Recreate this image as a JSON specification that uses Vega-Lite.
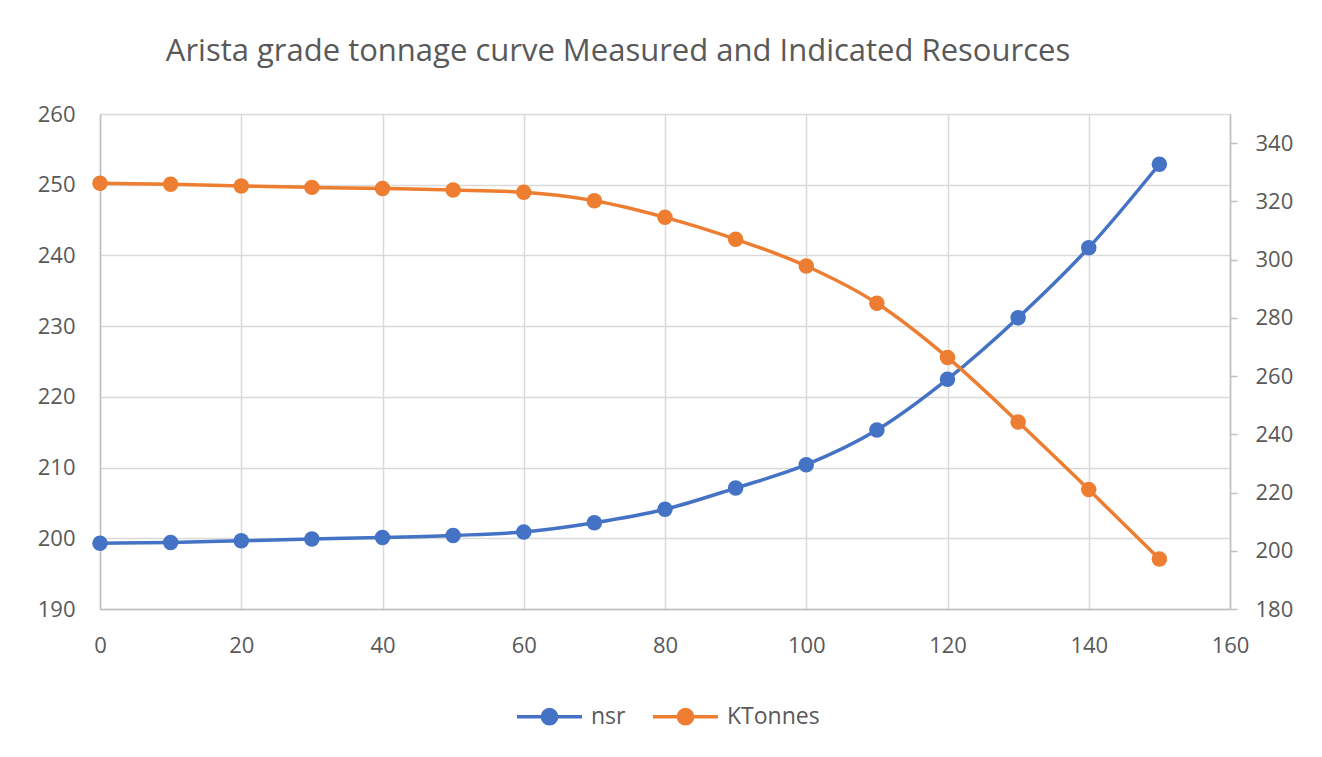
{
  "$schema": "https://vega.github.io/schema/vega-lite/v6.json",
  "autosize": "none",
  "width": 1130,
  "height": 495,
  "padding": {"left": 100, "top": 114, "right": 92, "bottom": 148},
  "background": "white",
  "title": {
    "text": "Arista grade tonnage curve Measured and Indicated Resources",
    "font": "Open Sans",
    "fontSize": 31,
    "fontWeight": "normal",
    "color": "#595959",
    "anchor": "middle",
    "dx": -47,
    "offset": 35
  },
  "data": {
    "values": [
      {"x": 0, "nsr": 199.3, "KTonnes": 326.2},
      {"x": 10, "nsr": 199.4, "KTonnes": 325.9},
      {"x": 20, "nsr": 199.65, "KTonnes": 325.3},
      {"x": 30, "nsr": 199.9, "KTonnes": 324.8},
      {"x": 40, "nsr": 200.1, "KTonnes": 324.4},
      {"x": 50, "nsr": 200.4, "KTonnes": 323.9},
      {"x": 60, "nsr": 200.9, "KTonnes": 323.1},
      {"x": 70, "nsr": 202.2, "KTonnes": 320.2},
      {"x": 80, "nsr": 204.1, "KTonnes": 314.5},
      {"x": 90, "nsr": 207.1, "KTonnes": 307.0},
      {"x": 100, "nsr": 210.4, "KTonnes": 297.8},
      {"x": 110, "nsr": 215.3, "KTonnes": 285.0},
      {"x": 120, "nsr": 222.5, "KTonnes": 266.4},
      {"x": 130, "nsr": 231.2, "KTonnes": 244.2},
      {"x": 140, "nsr": 241.1, "KTonnes": 221.0},
      {"x": 150, "nsr": 252.9, "KTonnes": 197.2}
    ]
  },
  "encoding": {
    "x": {
      "field": "x",
      "type": "quantitative",
      "scale": {"domain": [0, 160], "nice": false, "zero": false},
      "axis": {
        "title": null,
        "values": [0, 20, 40, 60, 80, 100, 120, 140, 160],
        "grid": true,
        "gridColor": "#D9D9D9",
        "gridWidth": 1.5,
        "domainColor": "#BFBFBF",
        "domainWidth": 1.5,
        "ticks": false,
        "labelFlush": false,
        "labelPadding": 26,
        "labelFontSize": 22,
        "labelFont": "Open Sans",
        "labelColor": "#595959"
      }
    }
  },
  "layer": [
    {
      "mark": {"type": "line", "interpolate": "monotone", "strokeWidth": 3.5, "point": {"filled": true, "size": 240, "opacity": 1}},
      "encoding": {
        "y": {
          "field": "nsr",
          "type": "quantitative",
          "scale": {"domain": [190, 260], "nice": false, "zero": false},
          "axis": {
            "title": null,
            "orient": "left",
            "values": [190, 200, 210, 220, 230, 240, 250, 260],
            "grid": true,
            "gridColor": "#D9D9D9",
            "gridWidth": 1.5,
            "domainColor": "#BFBFBF",
            "domainWidth": 1.5,
            "ticks": false,
            "labelFlush": false,
            "labelPadding": 25,
            "labelFontSize": 22,
            "labelFont": "Open Sans",
            "labelColor": "#595959"
          }
        },
        "color": {
          "datum": "nsr",
          "type": "nominal",
          "scale": {"domain": ["nsr", "KTonnes"], "range": ["#4472C4", "#ED7D31"]},
          "legend": {
            "title": null,
            "orient": "none",
            "direction": "horizontal",
            "legendX": 415,
            "legendY": 568,
            "symbolType": "M-1,0L1,0M-0.22,0A0.22,0.22 0 1,1 0.22,0A0.22,0.22 0 1,1 -0.22,0Z",
            "symbolSize": 4225,
            "symbolStrokeWidth": 3.5,
            "labelFontSize": 23,
            "labelFont": "Open Sans",
            "labelColor": "#595959",
            "columnPadding": 20,
            "labelOffset": 7,
            "encode": {
              "symbols": {"update": {"fill": {"scale": "color", "field": "value"}, "fillOpacity": {"value": 1}}}
            }
          }
        }
      }
    },
    {
      "mark": {"type": "line", "interpolate": "monotone", "strokeWidth": 3.5, "point": {"filled": true, "size": 240, "opacity": 1}},
      "encoding": {
        "y": {
          "field": "KTonnes",
          "type": "quantitative",
          "scale": {"domain": [180, 350], "nice": false, "zero": false},
          "axis": {
            "title": null,
            "orient": "right",
            "values": [180, 200, 220, 240, 260, 280, 300, 320, 340],
            "grid": false,
            "domainColor": "#BFBFBF",
            "domainWidth": 1.5,
            "ticks": true,
            "tickColor": "#BFBFBF",
            "tickWidth": 1.5,
            "tickSize": 7,
            "labelFlush": false,
            "labelPadding": 18,
            "labelFontSize": 22,
            "labelFont": "Open Sans",
            "labelColor": "#595959"
          }
        },
        "color": {"datum": "KTonnes", "type": "nominal"}
      }
    }
  ],
  "resolve": {"scale": {"y": "independent"}},
  "config": {"view": {"stroke": null}}
}
